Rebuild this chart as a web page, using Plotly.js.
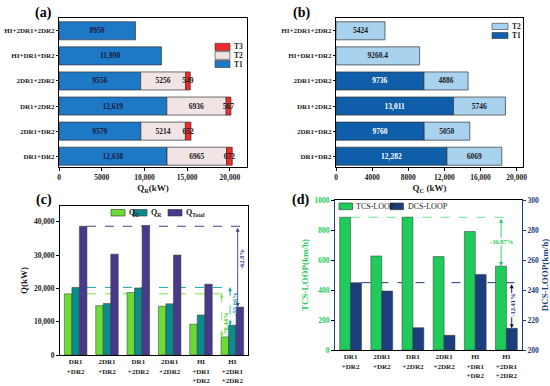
<!DOCTYPE html>
<html><head><meta charset="utf-8">
<script src="https://cdn.plot.ly/plotly-3.0.1.min.js"></script>
<style>html,body{margin:0;padding:0;background:#fff}#chart{width:550px;height:386px}</style>
</head><body><div id="chart"></div>
<script>
// ---------- data ----------
const cats = ['DR1+DR2','2DR1+DR2','DR1+2DR2','2DR1+2DR2','HI+DR1+DR2','HI+2DR1+2DR2'];
const catsMulti = ['DR1<br>+DR2','2DR1<br>+DR2','DR1<br>+2DR2','2DR1<br>+2DR2','HI<br>+DR1<br>+DR2','HI<br>+2DR1<br>+2DR2'];
// (a) heating duty Q_R by heater
const qrT1 = [12638, 9579, 12619, 9556, 11990, 8950];
const qrT2 = [6965, 5214, 6936, 5256, null, null];
const qrT3 = [672, 652, 567, 549, null, null];
// (b) cooling duty Q_C by cooler
const qcT1 = [12282, 9760, 13011, 9736, null, null];
const qcT2 = [6069, 5050, 5746, 4886, 9260.4, 5424];
// (c) totals
const qC = [18351, 14810, 18757, 14622, 9260, 5424];
const qR = [20275, 15445, 20122, 15361, 11990, 8950];
const qTotal = [38626, 30255, 38879, 29983, 21250, 14374];
// (d) loop flows
const tcs = [885, 627, 885, 623, 790, 559];
const dcs = [244.9, 239.3, 214.9, 209.8, 250.4, 214.5];
const ticksA = {vals:[0,5000,10000,15000,20000], text:['0','5000','10,000','15,000','20,000']};
const ticksB = {vals:[0,4000,8000,12000,16000,20000], text:['0','4000','8000','12,000','16,000','20,000']};
const pctC = ['-70.44%','-55.86%','-62.8%'];
const pctD = ['-36.87%','-12.41%'];

// ---------- style ----------
const W = 550, H = 386;
const px = x => x / W, py = y => 1 - y / H;
const FF = 'Liberation Serif';
const dark = '#1a1a1a';
const cT1a = '#1d79c6', cT2a = '#f0e4e4', cT3a = '#ee2b2b';
const cT1b = '#0e5ea9', cT2b = '#a9d2ee';
const cQC = '#6bdc34', cQR = '#0d8a8c', cQT = '#48398a';
const cTCS = '#1fcb5b', cDCS = '#1d3e7c';
const fmt = v => v == null ? '' : (v >= 10000 ? v.toLocaleString('en-US') : String(v));
const add = (a, b) => a.map((v, i) => (v || 0) + (b[i] || 0));
const idx = cats.map((c, i) => i);
const bline = {color:'#333', width:0.7};
const tf = (c, s) => ({family:FF, size:s || 8, color:c || dark, weight:'bold'});

const hbar = (x, base, color, txtColor, xa, ya) => ({
  type:'bar', orientation:'h', y:cats, x:x, base:base, width:0.72,
  xaxis:xa, yaxis:ya, marker:{color:color, line:bline},
  text:x.map(fmt), textposition:'inside', insidetextanchor:'middle', textangle:0,
  constraintext:'none', textfont:tf(txtColor, 7.5), hoverinfo:'none', showlegend:false
});
const vbar = (y, color, off, w, xa, ya) => ({
  type:'bar', x:idx, y:y, width:w, offset:off, xaxis:xa, yaxis:ya,
  marker:{color:color, line:{color:'#333', width:0.5}}, hoverinfo:'none', showlegend:false
});

const traces = [
  hbar(qrT1, 0, cT1a, '#1a1a40', 'x', 'y'),
  hbar(qrT2, qrT1, cT2a, dark, 'x', 'y'),
  hbar(qrT3, add(qrT1, qrT2), cT3a, dark, 'x', 'y'),
  hbar(qcT1, 0, cT1b, '#ffffff', 'x2', 'y2'),
  hbar(qcT2, qcT1.map(v => v || 0), cT2b, dark, 'x2', 'y2'),
  vbar(qC, cQC, -0.36, 0.24, 'x3', 'y3'),
  vbar(qR, cQR, -0.12, 0.24, 'x3', 'y3'),
  vbar(qTotal, cQT, 0.12, 0.24, 'x3', 'y3'),
  vbar(tcs, cTCS, -0.35, 0.35, 'x4', 'y4'),
  vbar(dcs, cDCS, 0, 0.35, 'x4', 'y5')
];

const axBase = {showline:true, mirror:true, linecolor:'#000', linewidth:1, ticks:'outside', ticklen:3,
  tickcolor:'#000', showgrid:false, zeroline:false, automargin:false, fixedrange:true, tickfont:tf(dark, 7.5)};

const layout = {
  width:W, height:H, margin:{l:0, r:0, t:0, b:0}, paper_bgcolor:'#fff', plot_bgcolor:'#fff',
  barmode:'overlay', showlegend:false, font:{family:FF, size:8, color:dark, weight:'bold'},
  xaxis:Object.assign({}, axBase, {domain:[px(59), px(247)], anchor:'y', range:[0, 22000],
    tickvals:ticksA.vals, ticktext:ticksA.text,
    title:{text:'Q<sub>R</sub>(kW)', font:tf(dark, 9), standoff:3}}),
  yaxis:Object.assign({}, axBase, {domain:[py(167), py(18)], anchor:'x', type:'category',
    categoryorder:'array', categoryarray:cats, range:[-0.43, 5.51], tickfont:tf(dark, 7), ticklen:2}),
  xaxis2:Object.assign({}, axBase, {domain:[px(336), px(523)], anchor:'y2', range:[0, 20700],
    tickvals:ticksB.vals, ticktext:ticksB.text,
    title:{text:'Q<sub>C</sub> (kW)', font:tf(dark, 9), standoff:3}}),
  yaxis2:Object.assign({}, axBase, {domain:[py(167), py(18)], anchor:'x2', type:'category',
    categoryorder:'array', categoryarray:cats, range:[-0.43, 5.51], tickfont:tf(dark, 7), ticklen:2}),
  xaxis3:Object.assign({}, axBase, {domain:[px(60), px(248)], anchor:'y3', range:[-0.5, 5.5],
    tickvals:idx, ticktext:catsMulti, tickfont:tf(dark, 7), ticklen:0}),
  yaxis3:Object.assign({}, axBase, {domain:[py(355), py(206)], anchor:'x3', range:[0, 44700],
    tickvals:[0,10000,20000,30000,40000], tickformat:',',
    title:{text:'Q(kW)', font:tf(dark, 9), standoff:4}}),
  xaxis4:Object.assign({}, axBase, {domain:[px(335), px(522)], anchor:'y4', range:[-0.5, 5.5],
    tickvals:idx, ticktext:catsMulti, tickfont:tf(dark, 7), ticklen:0}),
  yaxis4:Object.assign({}, axBase, {domain:[py(350), py(200)], anchor:'x4', range:[0, 1000], mirror:false,
    tickvals:[0,200,400,600,800,1000], tickfont:tf(cTCS, 7.5),
    title:{text:'TCS-LOOP(km/h)', font:tf(cTCS, 9), standoff:4}}),
  yaxis5:Object.assign({}, axBase, {overlaying:'y4', side:'right', anchor:'x4', range:[200, 300],
    linecolor:cDCS, tickcolor:cDCS, tickvals:[200,220,240,260,280,300], tickfont:tf(cDCS, 7.5),
    title:{text:'DCS-LOOP(km/h)', font:tf(cDCS, 9), standoff:4}}),
  shapes:[], annotations:[]
};

const S = layout.shapes, A = layout.annotations;
// ---- manual legends ----
const box = (x0, y0, x1, y1, c) => S.push({type:'rect', xref:'paper', yref:'paper', x0:px(x0), x1:px(x1),
  y0:py(y1), y1:py(y0), fillcolor:c, line:{color:'#333', width:0.6}});
const lab = (x, y, t, c, s, weight) => A.push({xref:'paper', yref:'paper', x:px(x), y:py(y), text:t,
  showarrow:false, xanchor:'left', yanchor:'middle', font:{family:FF, size:s || 7.5, color:c || dark, weight:weight || 'bold'}});
box(215, 43.3, 230, 50.7, cT3a); lab(231.5, 47, 'T3');
box(215, 51.7, 230, 59.3, cT2a); lab(231.5, 55.5, 'T2');
box(215, 60.5, 230, 67.5, cT1a); lab(231.5, 64, 'T1');
box(492, 23.3, 508, 29.5, cT2b); lab(509.5, 26.4, 'T2');
box(492, 32.5, 508, 38.5, cT1b); lab(509.5, 35.5, 'T1');
box(111, 209.5, 125, 216, cQC); lab(127, 212.8, 'Q<sub>C</sub>', dark, 8);
box(133, 209.5, 147, 216, cQR); lab(149, 212.8, 'Q<sub>R</sub>', dark, 8);
box(168, 209.5, 182, 216, cQT); lab(184, 212.8, 'Q<sub>Total</sub>', dark, 8);
box(339, 203, 352.5, 209.7, cTCS); lab(354, 206.4, 'TCS-LOOP', dark, 8, 'normal');
box(390, 203, 403.5, 209.7, cDCS); lab(405.5, 206.4, 'DCS-LOOP', dark, 8, 'normal');
// ---- panel letters ----
[['(a)', 43, 13], ['(b)', 301, 12.5], ['(c)', 44, 200], ['(d)', 300, 200.5]].forEach(p =>
  A.push({xref:'paper', yref:'paper', x:px(p[1]), y:py(p[2]), text:p[0], showarrow:false,
    xanchor:'center', yanchor:'middle', font:{family:FF, size:14, color:'#000', weight:'bold'}}));

// ---- (c) reference lines and arrows ----
const hl = (xr, yr, x0, x1, y, c, dash) => S.push({type:'line', xref:xr, yref:yr, x0:x0, x1:x1, y0:y, y1:y,
  line:{color:c, width:1, dash:dash || 'dash'}, layer:'below'});
const vl = (xr, yr, x, y0, y1, c, dash) => S.push({type:'line', xref:xr, yref:yr, x0:x, x1:x, y0:y0, y1:y1,
  line:{color:c, width:0.8, dash:dash || 'dash'}});
const head = (xr, yr, x, y, c, up) => A.push({xref:xr, yref:yr, x:x, y:y, ax:0, ay:up ? 7 : -7, text:'',
  showarrow:true, arrowhead:2, arrowsize:0.9, arrowwidth:0.8, arrowcolor:c});
const dbl = (xr, yr, x, yTop, yBot, c) => A.push({xref:xr, yref:yr, axref:xr, ayref:yr, x:x, y:yBot, ax:x, ay:yTop,
  text:'', showarrow:true, arrowhead:2, startarrowhead:2, arrowside:'end+start', arrowsize:0.9,
  startarrowsize:0.9, arrowwidth:0.9, arrowcolor:c});
const rtxt = (xr, yr, x, y, t, c, ang, bg) => A.push({xref:xr, yref:yr, x:x, y:y, text:t, showarrow:false,
  textangle:ang, bgcolor:bg || 'rgba(0,0,0,0)', borderpad:0,
  font:{family:FF, size:6.5, color:c, weight:'bold'}});

const gC = '#7fe04a', cyC = '#17a6ad';
hl('x3', 'y3', 0.36, 5.47, qTotal[0], cQT);
hl('x3', 'y3', 0.36, 4.93, qR[0], cyC);
hl('x3', 'y3', 0.36, 4.66, qC[0], gC);
vl('x3', 'y3', 4.66, qC[0], qC[5], gC); head('x3', 'y3', 4.66, qC[5], gC, false); head('x3', 'y3', 4.66, qC[0], gC, true);
vl('x3', 'y3', 4.93, qR[0], qR[5], cyC); head('x3', 'y3', 4.93, qR[5], cyC, false); head('x3', 'y3', 4.93, qR[0], cyC, true);
dbl('x3', 'y3', 5.17, qTotal[0], qTotal[5], cQT);
rtxt('x3', 'y3', 4.76, 9300, pctC[0], '#5cc82a', -90);
rtxt('x3', 'y3', 5.04, 15300, pctC[1], cyC, -90);
rtxt('x3', 'y3', 5.3, 28700, pctC[2], cQT, -90);

// ---- (d) reference lines and arrows ----
hl('x4', 'y4', 0.0, 5.06, tcs[0], '#6ee08e');
hl('x4', 'y5', 0.35, 5.48, dcs[0], cDCS);
dbl('x4', 'y4', 4.83, tcs[0], tcs[5], cTCS);
dbl('x4', 'y5', 5.17, dcs[0], dcs[5], '#111');
rtxt('x4', 'y4', 4.83, 720, pctD[0], cTCS, 0, '#fff');
rtxt('x4', 'y5', 5.17, 230, pctD[1], cDCS, -90, '#fff');

Plotly.newPlot('chart', traces, layout, {staticPlot:true, displayModeBar:false});
</script></body></html>
